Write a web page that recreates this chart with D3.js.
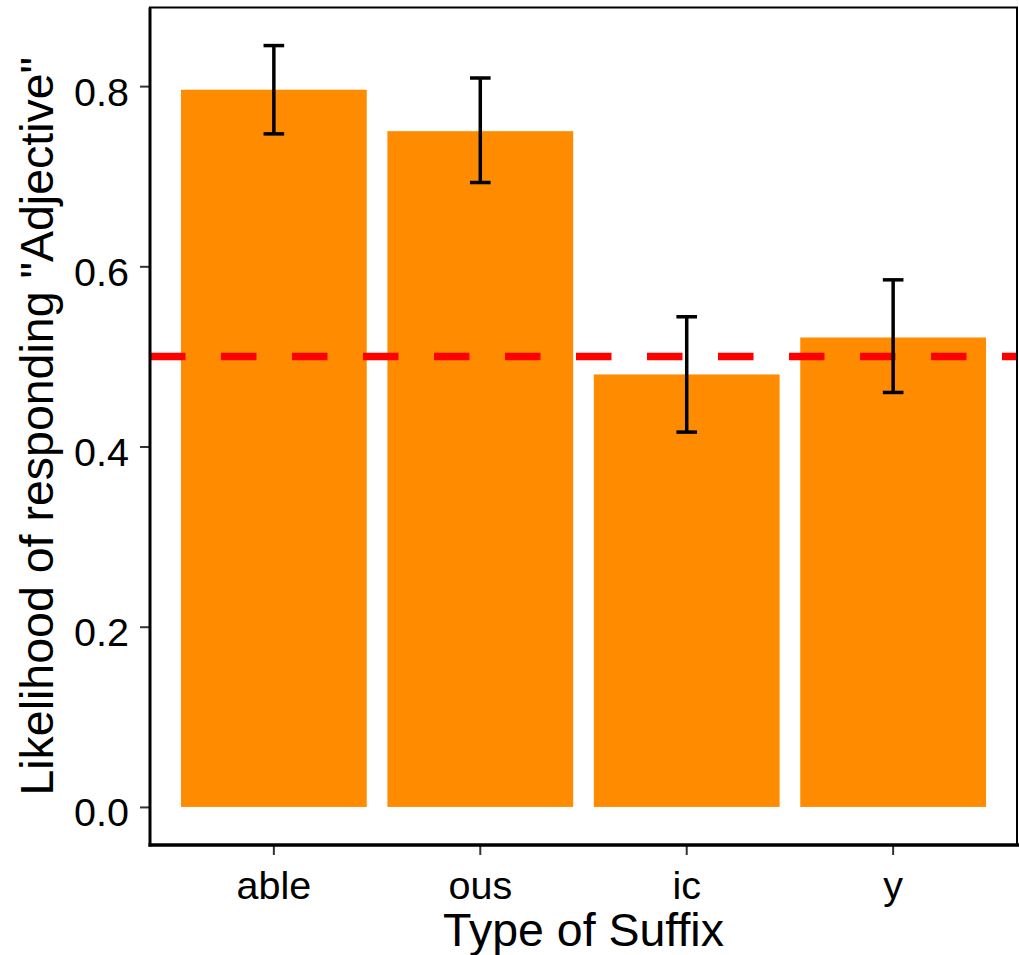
<!DOCTYPE html>
<html>
<head>
<meta charset="utf-8">
<script src="https://cdn.jsdelivr.net/npm/d3@7"></script>
<style>
  html, body { margin: 0; padding: 0; background: #fff; }
  svg { display: block; }
  text { font-family: "Liberation Sans", Arial, sans-serif; fill: #000; }
</style>
</head>
<body>
<svg id="chart" width="1019" height="955"></svg>
<script>
// Suffix categories and the proportion of "Adjective" responses for each
const categories = ["able", "ous", "ic", "y"];
const means = [0.796, 0.750, 0.480, 0.521];
const lower = [0.747, 0.693, 0.416, 0.460];
const upper = [0.845, 0.809, 0.544, 0.585];
const chanceLevel = 0.5;
const yTicks = [0.0, 0.2, 0.4, 0.6, 0.8];
const xTitle = "Type of Suffix";
const yTitle = "Likelihood of responding \"Adjective\"";

const rows = categories.map((c, i) => ({ cat: c, mean: means[i], lo: lower[i], hi: upper[i] }));

const W = 1019, H = 955;
const panel = { left: 150, right: 1017, top: 7.5, bottom: 845 };

const svg = d3.select("#chart");

// Continuous y scale, padded 5% beyond the data range on both ends
const dataMin = Math.min(0, d3.min(lower));
const dataMax = d3.max(upper);
const pad = (dataMax - dataMin) * 0.05;
const y = d3.scaleLinear()
  .domain([dataMin - pad, dataMax + pad])
  .range([panel.bottom, panel.top]);

// Discrete x scale: bars take 90% of each step
const x = d3.scaleBand()
  .domain(categories)
  .range([panel.left, panel.right])
  .paddingInner(0.1)
  .paddingOuter(0.15);
const step = x.step();

// Bars
svg.append("g")
  .selectAll("rect")
  .data(rows)
  .join("rect")
  .attr("x", d => x(d.cat))
  .attr("width", x.bandwidth())
  .attr("y", d => y(d.mean))
  .attr("height", d => y(0) - y(d.mean))
  .attr("fill", "#FF8C00");

// Reference line at chance level
svg.append("line")
  .attr("x1", panel.left)
  .attr("x2", panel.right)
  .attr("y1", y(chanceLevel))
  .attr("y2", y(chanceLevel))
  .attr("stroke", "#FF0000")
  .attr("stroke-width", 7.5)
  .attr("stroke-dasharray", "35.5,35.5");

// Error bars
const capHalf = step * 0.05;
const eb = svg.append("g")
  .attr("stroke", "#000")
  .attr("stroke-width", 3.5)
  .attr("fill", "none");
rows.forEach(d => {
  const cx = x(d.cat) + x.bandwidth() / 2;
  eb.append("line").attr("x1", cx).attr("x2", cx).attr("y1", y(d.lo)).attr("y2", y(d.hi));
  eb.append("line").attr("x1", cx - capHalf).attr("x2", cx + capHalf).attr("y1", y(d.hi)).attr("y2", y(d.hi));
  eb.append("line").attr("x1", cx - capHalf).attr("x2", cx + capHalf).attr("y1", y(d.lo)).attr("y2", y(d.lo));
});

// Panel border (top and right)
svg.append("rect")
  .attr("x", panel.left)
  .attr("y", panel.top)
  .attr("width", panel.right - panel.left)
  .attr("height", panel.bottom - panel.top)
  .attr("fill", "none")
  .attr("stroke", "#000")
  .attr("stroke-width", 2);

// Y axis
const yAxis = svg.append("g")
  .attr("transform", `translate(${panel.left},0)`)
  .call(d3.axisLeft(y).tickValues(yTicks).tickFormat(d3.format(".1f")).tickSize(10).tickPadding(11));
yAxis.select(".domain").remove();
yAxis.selectAll(".tick line").attr("stroke", "#333").attr("stroke-width", 2);
yAxis.selectAll(".tick text")
  .attr("font-size", 39.5)
  .attr("font-family", "Liberation Sans, Arial, sans-serif")
  .attr("fill", "#000")
  .attr("dy", "0.48em");

// X axis
const xAxis = svg.append("g")
  .attr("transform", `translate(0,${panel.bottom})`)
  .call(d3.axisBottom(x).tickSize(10).tickPadding(14));
xAxis.select(".domain").remove();
xAxis.selectAll(".tick line").attr("stroke", "#333").attr("stroke-width", 2);
xAxis.selectAll(".tick text")
  .attr("font-size", 39.5)
  .attr("font-family", "Liberation Sans, Arial, sans-serif")
  .attr("fill", "#000")
  .attr("dy", 0)
  .attr("y", 54);

// Axis lines (left and bottom)
svg.append("line")
  .attr("x1", panel.left).attr("x2", panel.left)
  .attr("y1", panel.top).attr("y2", panel.bottom + 1.5)
  .attr("stroke", "#000").attr("stroke-width", 3);
svg.append("line")
  .attr("x1", panel.left - 1.5).attr("x2", W)
  .attr("y1", panel.bottom).attr("y2", panel.bottom)
  .attr("stroke", "#000").attr("stroke-width", 3.5);

// Axis titles
svg.append("text")
  .attr("x", (panel.left + panel.right) / 2)
  .attr("y", 946)
  .attr("text-anchor", "middle")
  .attr("font-size", 46.5)
  .text(xTitle);

svg.append("text")
  .attr("transform", `translate(53,${(panel.top + panel.bottom) / 2}) rotate(-90)`)
  .attr("text-anchor", "middle")
  .attr("font-size", 46.5)
  .text(yTitle);
</script>
</body>
</html>
